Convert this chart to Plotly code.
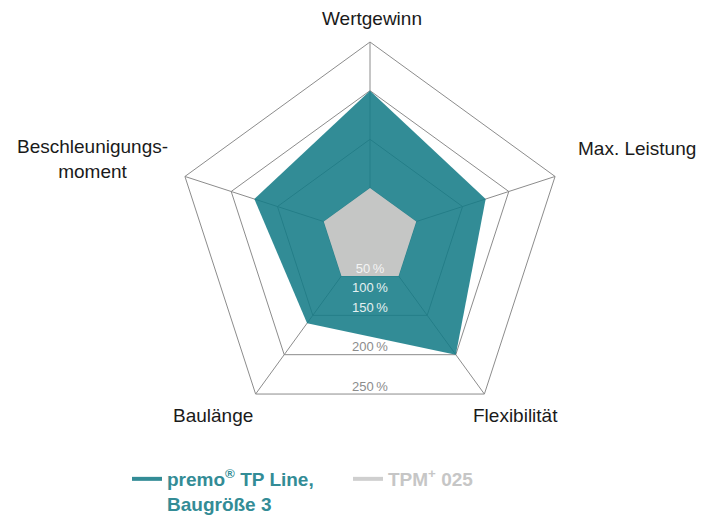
import math
import plotly.graph_objects as go

# Radar categories, clockwise from the top
categories = ["Wertgewinn", "Max. Leistung", "Flexibilität", "Baulänge", "Beschleunigungsmoment"]
category_labels = ["Wertgewinn", "Max. Leistung", "Flexibilität", "Baulänge", "Beschleunigungs-<br>moment"]

# Relative values in percent
premo_values = [200, 175, 200, 160, 175]
tpm_values = [100, 100, 100, 100, 100]

# Radial scale (center = 50 %)
radial_range = [50, 250]
ring_values = [100, 150, 200, 250]
scale_labels = ["50\u2009%", "100\u2009%", "150\u2009%", "200\u2009%", "250\u2009%"]
scale_label_anchor = [100, 125, 150, 200, 250]  # ring edge each label sits on
scale_label_colors = ["#f4f4f4", "#e4f0f1", "#e4f0f1", "#8c8c8c", "#8c8c8c"]

TEAL = "#338c96"
TEAL_FILL = "rgba(20,123,134,0.87)"
GREY = "#c5c6c5"
GRID = "#8c8c8c"
FONT = "Liberation Sans, Arial, Helvetica, sans-serif"

W, H = 716, 516

def closed(seq):
    return list(seq) + [seq[0]]

fig = go.Figure()

fig.add_trace(go.Scatterpolar(
    r=closed(premo_values), theta=closed(categories),
    mode="lines", fill="toself", fillcolor=TEAL_FILL,
    line=dict(width=0, color=TEAL), showlegend=False, hoverinfo="skip",
    subplot="polar",
))
fig.add_trace(go.Scatterpolar(
    r=closed(tpm_values), theta=closed(categories),
    mode="lines", fill="toself", fillcolor=GREY,
    line=dict(width=0, color=GREY), showlegend=False, hoverinfo="skip",
    subplot="polar",
))

# Legend entries
fig.add_trace(go.Scatterpolar(
    r=[None], theta=[categories[0]], mode="lines",
    line=dict(color=TEAL, width=4),
    name=f"<b><span style='color:{TEAL}'>premo<sup>®</sup> TP Line,<br>Baugröße 3</span></b>",
    subplot="polar",
))
fig.add_trace(go.Scatterpolar(
    r=[None], theta=[categories[0]], mode="lines",
    line=dict(color="#cfcfcf", width=4),
    name="<b><span style='color:#c6c6c6'>TPM<sup>+</sup> 025</span></b>",
    subplot="polar",
))

# Scale labels along the bottom, just inside each ring's lower edge
cos36 = math.cos(math.radians(36))
fig.add_trace(go.Scatterpolar(
    r=[radial_range[0] + (a - radial_range[0]) * cos36 for a in scale_label_anchor],
    theta=[180] * len(scale_labels),
    mode="text", text=scale_labels, textposition="top center",
    textfont=dict(family=FONT, size=13, color=scale_label_colors),
    showlegend=False, hoverinfo="skip", subplot="polar2",
))

domain = dict(x=[175.4 / W, 564.6 / W], y=[1 - 431.2 / H, 1 - 42 / H])

fig.update_layout(
    width=W, height=H,
    margin=dict(l=0, r=0, t=0, b=0, autoexpand=False),
    paper_bgcolor="white",
    font=dict(family=FONT, color="#1a1a1a"),
    polar=dict(
        domain=domain,
        gridshape="linear",
        bgcolor="white",
        radialaxis=dict(range=radial_range, tickvals=ring_values, showticklabels=False,
                        ticks="", showline=False, gridcolor=GRID, gridwidth=1),
        angularaxis=dict(categoryarray=categories, categoryorder="array",
                         rotation=90, direction="clockwise", showticklabels=False,
                         ticks="", showline=True, linecolor=GRID, linewidth=1,
                         gridcolor=GRID, gridwidth=1),
    ),
    polar2=dict(
        domain=domain,
        bgcolor="rgba(0,0,0,0)",
        radialaxis=dict(range=radial_range, visible=False),
        angularaxis=dict(rotation=90, direction="clockwise", visible=False),
    ),
    legend=dict(
        orientation="h", x=127 / W, xanchor="left", y=1 - 460 / H, yanchor="top",
        valign="top", entrywidth=176, entrywidthmode="pixels",
        font=dict(family=FONT, size=19), bgcolor="rgba(0,0,0,0)",
    ),
)

# Category labels around the chart
label_pos = [(372, 19), (637, 148), (515, 415), (213, 415), (92, 159)]
for text, (px, py) in zip(category_labels, label_pos):
    fig.add_annotation(
        text=text, x=px / W, y=1 - py / H, xref="paper", yref="paper",
        xanchor="center", yanchor="middle", showarrow=False, align="center",
        font=dict(family=FONT, size=19, color="#1a1a1a"),
    )

fig.write_html("out.html")
